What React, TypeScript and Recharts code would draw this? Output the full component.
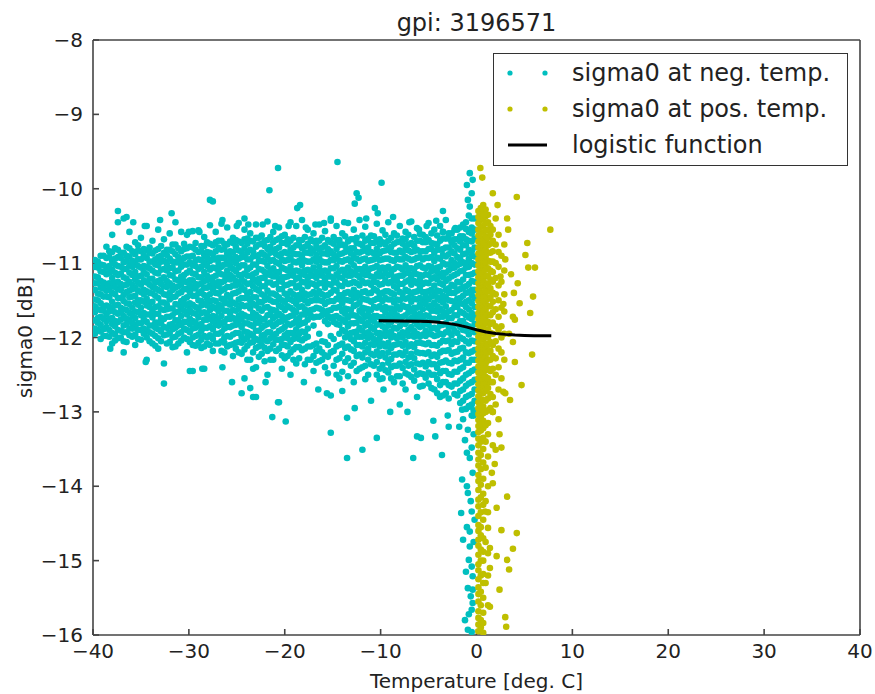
import React from 'react';
import { ScatterChart, Scatter, XAxis, YAxis, Legend, Label } from 'recharts';

const CYAN = '#00bfbf';
const OLIVE = '#bfbf00';
const FONT = 'DejaVu Sans, sans-serif';

const xTicks = [-40, -30, -20, -10, 0, 10, 20, 30, 40];
const yTicks = [-16, -15, -14, -13, -12, -11, -10, -9, -8];

// sigma0 below 0 deg: main cloud read column by column
const negColumnT = [
  -39.8, -39.2, -38.6, -38.0, -37.4, -36.8, -36.2, -35.6, -35.0, -34.4, -33.8, -33.2, -32.6, -32.0, -31.4, -30.8, -30.2,
  -29.6, -29.0, -28.4, -27.8, -27.2, -26.6, -26.0, -25.4, -24.8, -24.2, -23.6, -23.0, -22.4, -21.8, -21.2, -20.6, -20.0,
  -19.4, -18.8, -18.2, -17.6, -17.0, -16.4, -15.8, -15.2, -14.6, -14.0, -13.4, -12.8, -12.2, -11.6, -11.0, -10.4, -9.8,
  -9.2, -8.6, -8.0, -7.4, -6.8, -6.2, -5.6, -5.0, -4.4, -3.8, -3.2, -2.6, -2.0, -1.4, -0.8, -0.2,
];
const negColumnS = [
  [-10.96, -11.05, -11.18, -11.27, -11.36, -11.49, -11.58, -11.66, -11.77, -11.88, -11.95],
  [-10.9, -11.02, -11.11, -11.24, -11.33, -11.42, -11.54, -11.63, -11.72, -11.83, -11.92, -12.02],
  [-10.78, -10.93, -11.06, -11.15, -11.28, -11.37, -11.45, -11.57, -11.69, -11.78, -11.86, -11.98],
  [-10.62, -10.85, -10.97, -11.09, -11.2, -11.31, -11.4, -11.52, -11.61, -11.74, -11.82, -11.94, -12.08],
  [-10.3, -10.45, -10.82, -10.92, -11.04, -11.16, -11.25, -11.35, -11.47, -11.56, -11.68, -11.79, -11.9, -12.01],
  [-10.4, -10.86, -10.99, -11.08, -11.19, -11.3, -11.43, -11.51, -11.62, -11.71, -11.84, -11.93, -12.05],
  [-10.58, -10.8, -10.91, -11.03, -11.13, -11.25, -11.37, -11.46, -11.55, -11.67, -11.76, -11.88, -11.97],
  [-10.72, -10.88, -11.0, -11.12, -11.22, -11.33, -11.44, -11.53, -11.65, -11.74, -11.85, -11.96, -12.1],
  [-10.66, -10.84, -10.95, -11.06, -11.17, -11.29, -11.39, -11.5, -11.6, -11.7, -11.81, -11.9, -12.03],
  [-10.5, -10.83, -10.93, -11.05, -11.15, -11.26, -11.38, -11.48, -11.57, -11.69, -11.79, -11.91, -12.0, -12.3],
  [-10.7, -10.87, -10.98, -11.1, -11.21, -11.32, -11.41, -11.52, -11.64, -11.73, -11.84, -11.95, -12.08],
  [-10.55, -10.81, -10.92, -11.03, -11.14, -11.24, -11.36, -11.47, -11.58, -11.68, -11.8, -11.89, -12.01, -12.15],
  [-10.68, -10.86, -10.97, -11.08, -11.19, -11.31, -11.42, -11.53, -11.63, -11.75, -11.86, -11.97, -12.35, -12.62],
  [-10.6, -10.82, -10.94, -11.07, -11.16, -11.27, -11.4, -11.49, -11.61, -11.72, -11.83, -11.94, -12.06],
  [-10.45, -10.75, -10.88, -10.99, -11.11, -11.22, -11.33, -11.45, -11.55, -11.66, -11.77, -11.87, -11.99, -12.12],
  [-10.58, -10.84, -10.96, -11.05, -11.18, -11.28, -11.39, -11.51, -11.6, -11.71, -11.82, -11.93, -12.04],
  [-10.62, -10.8, -10.91, -11.02, -11.13, -11.26, -11.35, -11.46, -11.57, -11.69, -11.79, -11.9, -12.02, -12.2],
  [-10.57, -10.79, -10.9, -11.03, -11.14, -11.23, -11.34, -11.44, -11.56, -11.67, -11.78, -11.88, -12.0, -12.1, -12.45],
  [-10.56, -10.85, -10.95, -11.08, -11.19, -11.29, -11.41, -11.5, -11.62, -11.73, -11.84, -11.96, -12.07],
  [-10.65, -10.77, -10.89, -11.0, -11.12, -11.24, -11.33, -11.43, -11.55, -11.66, -11.76, -11.87, -11.98, -12.12, -12.42],
  [-10.49, -10.74, -10.86, -10.97, -11.09, -11.2, -11.3, -11.42, -11.52, -11.63, -11.74, -11.85, -11.97, -12.1],
  [-10.58, -10.72, -10.84, -10.95, -11.07, -11.17, -11.29, -11.4, -11.51, -11.61, -11.72, -11.83, -11.95, -12.08],
  [-10.47, -10.7, -10.82, -10.93, -11.05, -11.15, -11.26, -11.37, -11.48, -11.6, -11.71, -11.81, -11.93, -12.05, -12.18],
  [-10.52, -10.75, -10.87, -10.99, -11.1, -11.21, -11.32, -11.43, -11.54, -11.64, -11.75, -11.86, -11.98, -12.12],
  [-10.66, -10.73, -10.85, -10.96, -11.08, -11.19, -11.3, -11.41, -11.53, -11.63, -11.74, -11.84, -11.96, -12.09, -12.25],
  [-10.46, -10.71, -10.83, -10.94, -11.06, -11.16, -11.28, -11.38, -11.49, -11.61, -11.71, -11.82, -11.94, -12.06, -12.2],
  [-10.55, -10.68, -10.8, -10.91, -11.03, -11.14, -11.25, -11.36, -11.47, -11.58, -11.7, -11.81, -11.92, -12.03, -12.16, -12.55],
  [-10.6, -10.7, -10.82, -10.95, -11.06, -11.17, -11.27, -11.39, -11.5, -11.61, -11.73, -11.83, -11.95, -12.07, -12.3, -12.68],
  [-10.48, -10.66, -10.78, -10.9, -11.02, -11.13, -11.24, -11.35, -11.46, -11.57, -11.69, -11.8, -11.91, -12.02, -12.14, -12.4, -12.8],
  [-10.63, -10.74, -10.86, -10.97, -11.09, -11.2, -11.31, -11.42, -11.53, -11.64, -11.76, -11.87, -11.98, -12.1, -12.22],
  [-10.44, -10.69, -10.81, -10.92, -11.04, -11.15, -11.26, -11.37, -11.48, -11.59, -11.7, -11.82, -11.93, -12.05, -12.18, -12.5],
  [-10.58, -10.72, -10.84, -10.96, -11.07, -11.18, -11.29, -11.41, -11.52, -11.63, -11.74, -11.85, -11.97, -12.09, -12.3],
  [-10.52, -10.67, -10.79, -10.9, -11.01, -11.12, -11.24, -11.35, -11.46, -11.57, -11.68, -11.79, -11.91, -12.03, -12.15, -12.87],
  [-10.62, -10.73, -10.85, -10.97, -11.08, -11.19, -11.3, -11.41, -11.52, -11.63, -11.75, -11.86, -11.97, -12.1, -12.28],
  [-10.45, -10.7, -10.82, -10.93, -11.05, -11.16, -11.27, -11.38, -11.49, -11.6, -11.71, -11.83, -11.94, -12.06, -12.2, -12.5],
  [-10.5, -10.76, -10.88, -10.99, -11.1, -11.21, -11.33, -11.44, -11.55, -11.66, -11.77, -11.89, -12.0, -12.13, -12.35],
  [-10.42, -10.69, -10.8, -10.92, -11.03, -11.14, -11.25, -11.36, -11.47, -11.58, -11.69, -11.81, -11.92, -12.04, -12.17],
  [-10.55, -10.74, -10.86, -10.98, -11.09, -11.2, -11.31, -11.43, -11.54, -11.65, -11.76, -11.88, -11.99, -12.12, -12.3],
  [-10.6, -10.71, -10.83, -10.95, -11.06, -11.17, -11.28, -11.39, -11.5, -11.62, -11.73, -11.84, -12.1, -12.25, -12.45],
  [-10.48, -10.7, -10.82, -10.94, -11.05, -11.16, -11.27, -11.38, -11.5, -11.61, -11.72, -11.95, -12.15, -12.32],
  [-10.57, -10.76, -10.87, -10.99, -11.1, -11.22, -11.33, -11.44, -11.55, -11.66, -11.78, -12.06, -12.24, -12.4],
  [-10.43, -10.72, -10.84, -10.96, -11.07, -11.18, -11.29, -11.4, -11.51, -11.63, -11.74, -11.98, -12.2, -12.78],
  [-10.5, -10.69, -10.81, -10.93, -11.04, -11.15, -11.26, -11.37, -11.48, -11.6, -11.71, -11.82, -12.12, -12.3, -12.5],
  [-10.6, -10.75, -10.87, -10.98, -11.09, -11.2, -11.31, -11.43, -11.54, -11.65, -11.76, -11.9, -12.08, -12.22, -12.46, -12.72],
  [-10.46, -10.71, -10.83, -10.95, -11.06, -11.17, -11.28, -11.39, -11.5, -11.62, -11.73, -11.85, -11.97, -12.12, -12.28, -12.52],
  [-10.55, -10.68, -10.8, -10.92, -11.03, -11.14, -11.25, -11.36, -11.47, -11.58, -11.7, -11.81, -11.93, -12.05, -12.18, -12.34, -12.6],
  [-10.42, -10.74, -10.86, -10.97, -11.08, -11.19, -11.3, -11.42, -11.53, -11.64, -11.75, -11.87, -11.99, -12.1, -12.23, -12.42],
  [-10.51, -10.7, -10.82, -10.94, -11.05, -11.16, -11.27, -11.38, -11.49, -11.61, -11.72, -11.84, -11.95, -12.07, -12.2, -12.38, -12.56],
  [-10.63, -10.73, -10.85, -10.96, -11.07, -11.18, -11.29, -11.4, -11.52, -11.63, -11.74, -11.86, -11.97, -12.09, -12.22, -12.36],
  [-10.47, -10.69, -10.81, -10.93, -11.04, -11.15, -11.26, -11.37, -11.48, -11.6, -11.71, -11.83, -11.94, -12.06, -12.19, -12.33, -12.5],
  [-10.56, -10.72, -10.84, -10.95, -11.06, -11.17, -11.28, -11.4, -11.51, -11.62, -11.73, -11.85, -11.96, -12.08, -12.21, -12.37, -12.55],
  [-10.45, -10.7, -10.82, -10.94, -11.05, -11.16, -11.27, -11.38, -11.49, -11.61, -11.72, -11.84, -11.95, -12.07, -12.2, -12.34, -12.47],
  [-10.6, -10.74, -10.86, -10.97, -11.08, -11.2, -11.31, -11.42, -11.53, -11.64, -11.75, -11.87, -11.98, -12.1, -12.23, -12.38, -12.6],
  [-10.5, -10.71, -10.83, -10.95, -11.06, -11.17, -11.28, -11.39, -11.5, -11.62, -11.73, -11.85, -11.96, -12.08, -12.21, -12.35, -12.52],
  [-10.58, -10.68, -10.8, -10.92, -11.03, -11.14, -11.25, -11.36, -11.48, -11.59, -11.7, -11.82, -11.94, -12.06, -12.19, -12.33, -12.48, -12.7],
  [-10.44, -10.73, -10.85, -10.96, -11.07, -11.18, -11.29, -11.41, -11.52, -11.63, -11.74, -11.86, -11.97, -12.09, -12.22, -12.36, -12.53],
  [-10.53, -10.7, -10.82, -10.93, -11.04, -11.15, -11.27, -11.38, -11.49, -11.6, -11.72, -11.83, -11.95, -12.07, -12.2, -12.35, -12.5, -12.8],
  [-10.62, -10.72, -10.84, -10.95, -11.06, -11.17, -11.28, -11.39, -11.5, -11.62, -11.73, -11.84, -11.96, -12.08, -12.21, -12.34, -12.49, -12.65],
  [-10.46, -10.69, -10.81, -10.93, -11.04, -11.16, -11.27, -11.38, -11.49, -11.6, -11.71, -11.83, -11.95, -12.07, -12.2, -12.33, -12.47, -12.62],
  [-10.55, -10.74, -10.86, -10.97, -11.08, -11.19, -11.3, -11.42, -11.53, -11.64, -11.75, -11.87, -11.98, -12.1, -12.23, -12.36, -12.5, -12.7],
  [-10.5, -10.7, -10.82, -10.94, -11.05, -11.16, -11.27, -11.38, -11.5, -11.61, -11.72, -11.84, -11.95, -12.07, -12.2, -12.34, -12.48, -12.64, -12.8],
  [-10.42, -10.67, -10.79, -10.91, -11.02, -11.13, -11.24, -11.36, -11.47, -11.58, -11.69, -11.81, -11.93, -12.05, -12.18, -12.31, -12.45, -12.6, -12.75],
  [-10.6, -10.72, -10.84, -10.96, -11.07, -11.18, -11.29, -11.4, -11.51, -11.63, -11.74, -11.85, -11.97, -12.09, -12.22, -12.35, -12.5, -12.66],
  [-10.55, -10.68, -10.8, -10.92, -11.03, -11.14, -11.25, -11.37, -11.48, -11.59, -11.7, -11.82, -11.94, -12.06, -12.19, -12.32, -12.46, -12.62, -12.78],
  [-10.48, -10.64, -10.76, -10.88, -10.99, -11.1, -11.22, -11.33, -11.44, -11.55, -11.67, -11.78, -11.9, -12.02, -12.14, -12.27, -12.4, -12.55, -12.7, -12.85],
  [-10.36, -10.58, -10.7, -10.82, -10.94, -11.05, -11.16, -11.28, -11.39, -11.5, -11.62, -11.73, -11.85, -11.96, -12.08, -12.21, -12.34, -12.48, -12.62, -12.78, -12.92],
  [-10.4, -10.55, -10.67, -10.79, -10.91, -11.02, -11.13, -11.25, -11.36, -11.47, -11.59, -11.7, -11.82, -11.93, -12.05, -12.17, -12.3, -12.43, -12.57, -12.7, -12.85],
];

// in-between columns of the dense core
const negFillT = [
  -39.5, -38.9, -38.3, -37.7, -37.1, -36.5, -35.9, -35.3, -34.7, -34.1, -33.5, -32.9, -32.3, -31.7, -31.1, -30.5, -29.9,
  -29.3, -28.7, -28.1, -27.5, -26.9, -26.3, -25.7, -25.1, -24.5, -23.9, -23.3, -22.7, -22.1, -21.5, -20.9, -20.3, -19.7,
  -19.1, -18.5, -17.9, -17.3, -16.7, -16.1, -15.5, -14.9, -14.3, -13.7, -13.1, -12.5, -11.9, -11.3, -10.7, -10.1, -9.5,
  -8.9, -8.3, -7.7, -7.1, -6.5, -5.9, -5.3, -4.7, -4.1, -3.5, -2.9, -2.3, -1.7, -1.1, -0.5,
];
const negFillS = [
  [-10.98, -11.06, -11.19, -11.27, -11.41, -11.5, -11.62, -11.74, -11.8, -11.9],
  [-10.9, -11.03, -11.12, -11.26, -11.34, -11.45, -11.58, -11.64, -11.75, -11.89, -11.98],
  [-10.84, -10.92, -11.04, -11.13, -11.27, -11.35, -11.46, -11.59, -11.65, -11.75, -11.9, -11.99],
  [-10.8, -10.94, -11.02, -11.13, -11.26, -11.32, -11.42, -11.57, -11.66, -11.78, -11.85, -11.96, -12.04],
  [-10.86, -10.93, -11.05, -11.14, -11.28, -11.36, -11.47, -11.6, -11.66, -11.76, -11.91, -12.0],
  [-10.78, -10.9, -10.97, -11.08, -11.21, -11.29, -11.39, -11.54, -11.63, -11.75, -11.82, -11.93, -12.06],
  [-10.84, -10.97, -11.05, -11.16, -11.29, -11.35, -11.45, -11.6, -11.69, -11.81, -11.88, -11.99],
  [-10.76, -10.83, -10.95, -11.04, -11.18, -11.26, -11.37, -11.5, -11.56, -11.66, -11.81, -11.9, -12.02],
  [-10.81, -10.9, -11.04, -11.12, -11.23, -11.36, -11.42, -11.52, -11.67, -11.76, -11.88, -11.95],
  [-10.79, -10.86, -10.98, -11.07, -11.21, -11.29, -11.4, -11.53, -11.59, -11.69, -11.84, -11.93, -12.05],
  [-10.83, -10.95, -11.02, -11.13, -11.26, -11.34, -11.44, -11.59, -11.68, -11.8, -11.87, -11.98, -12.11],
  [-10.77, -10.9, -10.98, -11.09, -11.22, -11.28, -11.38, -11.53, -11.62, -11.74, -11.81, -11.92, -12.05],
  [-10.82, -10.89, -11.01, -11.1, -11.24, -11.32, -11.43, -11.56, -11.62, -11.72, -11.87, -11.96, -12.08],
  [-10.75, -10.84, -10.98, -11.06, -11.17, -11.3, -11.36, -11.46, -11.61, -11.7, -11.82, -11.89, -12.0, -12.13],
  [-10.8, -10.92, -10.99, -11.1, -11.23, -11.31, -11.41, -11.56, -11.65, -11.77, -11.84, -11.95, -12.08],
  [-10.74, -10.81, -10.93, -11.02, -11.16, -11.24, -11.35, -11.48, -11.54, -11.64, -11.79, -11.88, -12.0],
  [-10.78, -10.91, -10.99, -11.1, -11.23, -11.29, -11.39, -11.54, -11.63, -11.75, -11.82, -11.93, -12.06],
  [-10.73, -10.82, -10.96, -11.04, -11.15, -11.28, -11.34, -11.44, -11.59, -11.68, -11.8, -11.87, -11.98, -12.11],
  [-10.77, -10.84, -10.96, -11.05, -11.19, -11.27, -11.38, -11.51, -11.57, -11.67, -11.82, -11.91, -12.03, -12.14],
  [-10.72, -10.85, -10.93, -11.04, -11.17, -11.23, -11.33, -11.48, -11.57, -11.69, -11.76, -11.87, -12.0, -12.08],
  [-10.76, -10.88, -10.95, -11.06, -11.19, -11.25, -11.35, -11.5, -11.59, -11.71, -11.78, -11.89, -12.02, -12.18],
  [-10.7, -10.79, -10.93, -11.01, -11.12, -11.25, -11.31, -11.41, -11.56, -11.65, -11.77, -11.84, -11.95, -12.08],
  [-10.74, -10.81, -10.93, -11.02, -11.16, -11.24, -11.35, -11.48, -11.54, -11.64, -11.79, -11.88, -12.0, -12.07, -12.2],
  [-10.71, -10.84, -10.92, -11.03, -11.16, -11.22, -11.32, -11.47, -11.56, -11.68, -11.75, -11.86, -11.99, -12.1],
  [-10.69, -10.78, -10.92, -11.0, -11.11, -11.24, -11.3, -11.4, -11.55, -11.64, -11.76, -11.83, -11.94, -12.07, -12.15],
  [-10.73, -10.85, -10.92, -11.03, -11.16, -11.22, -11.32, -11.47, -11.56, -11.68, -11.75, -11.86, -11.99, -12.07, -12.22],
  [-10.67, -10.74, -10.86, -10.95, -11.09, -11.17, -11.28, -11.41, -11.47, -11.57, -11.72, -11.81, -11.93, -12.0, -12.11, -12.3],
  [-10.71, -10.84, -10.91, -11.02, -11.15, -11.21, -11.31, -11.46, -11.55, -11.67, -11.74, -11.85, -11.98, -12.06, -12.2, -12.42],
  [-10.66, -10.75, -10.89, -10.97, -11.08, -11.21, -11.27, -11.37, -11.52, -11.61, -11.73, -11.8, -11.91, -12.04, -12.12, -12.26],
  [-10.7, -10.77, -10.89, -10.98, -11.12, -11.2, -11.31, -11.44, -11.5, -11.6, -11.75, -11.84, -11.96, -12.03, -12.14, -12.32],
  [-10.65, -10.78, -10.86, -10.97, -11.1, -11.16, -11.26, -11.41, -11.5, -11.62, -11.69, -11.8, -11.93, -12.01, -12.15, -12.3],
  [-10.69, -10.81, -10.88, -10.99, -11.12, -11.18, -11.28, -11.43, -11.52, -11.64, -11.71, -11.82, -11.95, -12.03, -12.18],
  [-10.64, -10.73, -10.87, -10.95, -11.06, -11.19, -11.25, -11.35, -11.5, -11.59, -11.71, -11.78, -11.89, -12.02, -12.1, -12.24, -12.42],
  [-10.68, -10.75, -10.87, -10.96, -11.1, -11.18, -11.29, -11.42, -11.48, -11.58, -11.73, -11.82, -11.94, -12.01, -12.12, -12.25],
  [-10.66, -10.79, -10.87, -10.98, -11.11, -11.17, -11.27, -11.42, -11.51, -11.63, -11.7, -11.81, -11.94, -12.02, -12.16, -12.3],
  [-10.69, -10.76, -10.88, -10.97, -11.11, -11.19, -11.3, -11.43, -11.49, -11.59, -11.74, -11.83, -11.95, -12.02, -12.13, -12.28],
  [-10.65, -10.78, -10.86, -10.97, -11.1, -11.16, -11.26, -11.41, -11.5, -11.62, -11.69, -11.8, -11.93, -12.01, -12.15, -12.36],
  [-10.68, -10.8, -10.87, -10.98, -11.11, -11.17, -11.27, -11.42, -11.51, -11.63, -11.7, -12.12, -12.3],
  [-10.7, -10.77, -10.89, -10.98, -11.12, -11.2, -11.31, -11.44, -11.5, -11.6, -11.72, -12.08, -12.18, -12.34],
  [-10.66, -10.79, -10.87, -10.98, -11.11, -11.17, -11.27, -11.42, -11.51, -11.63, -11.7, -12.05, -12.2, -12.3],
  [-10.69, -10.81, -10.88, -10.99, -11.12, -11.18, -11.28, -11.43, -11.52, -11.64, -11.71, -11.82, -12.1, -12.26, -12.48],
  [-10.65, -10.74, -10.88, -10.96, -11.07, -11.2, -11.26, -11.36, -11.51, -11.6, -11.72, -11.79, -12.02, -12.18, -12.38],
  [-10.69, -10.76, -10.88, -10.97, -11.11, -11.19, -11.3, -11.43, -11.49, -11.59, -11.74, -11.83, -11.95, -12.1, -12.28, -12.55],
  [-10.64, -10.77, -10.85, -10.96, -11.09, -11.15, -11.25, -11.4, -11.49, -11.61, -11.68, -11.79, -11.92, -12.0, -12.14, -12.33],
  [-10.68, -10.8, -10.87, -10.98, -11.11, -11.17, -11.27, -11.42, -11.51, -11.63, -11.7, -11.81, -11.94, -12.02, -12.16, -12.38],
  [-10.66, -10.73, -10.85, -10.94, -11.08, -11.16, -11.27, -11.4, -11.46, -11.56, -11.71, -11.8, -11.92, -11.99, -12.1, -12.25, -12.45],
  [-10.63, -10.76, -10.84, -10.95, -11.08, -11.14, -11.24, -11.39, -11.48, -11.6, -11.67, -11.78, -11.91, -11.99, -12.12, -12.27, -12.4],
  [-10.67, -10.79, -10.86, -10.97, -11.1, -11.16, -11.26, -11.41, -11.5, -11.62, -11.69, -11.8, -11.93, -12.01, -12.15, -12.3, -12.5],
  [-10.64, -10.73, -10.87, -10.95, -11.06, -11.19, -11.25, -11.35, -11.5, -11.59, -11.71, -11.78, -11.89, -12.02, -12.1, -12.24, -12.38],
  [-10.68, -10.75, -10.87, -10.96, -11.1, -11.18, -11.29, -11.42, -11.48, -11.58, -11.73, -11.82, -11.94, -12.01, -12.12, -12.25, -12.42, -12.56],
  [-10.62, -10.75, -10.83, -10.94, -11.07, -11.13, -11.23, -11.38, -11.47, -11.59, -11.66, -11.77, -11.9, -11.98, -12.12, -12.27, -12.44],
  [-10.66, -10.78, -10.85, -10.96, -11.09, -11.15, -11.25, -11.4, -11.49, -11.61, -11.68, -11.79, -11.92, -12.0, -12.14, -12.29, -12.4, -12.55],
  [-10.63, -10.72, -10.86, -10.94, -11.05, -11.18, -11.24, -11.34, -11.49, -11.58, -11.7, -11.77, -11.88, -12.01, -12.09, -12.23, -12.38, -12.52],
  [-10.67, -10.74, -10.86, -10.95, -11.09, -11.17, -11.28, -11.41, -11.47, -11.57, -11.72, -11.81, -11.93, -12.0, -12.11, -12.24, -12.41, -12.62],
  [-10.62, -10.75, -10.83, -10.94, -11.07, -11.13, -11.23, -11.38, -11.47, -11.59, -11.66, -11.77, -11.9, -11.98, -12.12, -12.27, -12.38, -12.5],
  [-10.65, -10.77, -10.84, -10.95, -11.08, -11.14, -11.24, -11.39, -11.48, -11.6, -11.67, -11.78, -11.91, -11.99, -12.13, -12.28, -12.43, -12.58],
  [-10.61, -10.7, -10.84, -10.92, -11.03, -11.16, -11.22, -11.32, -11.47, -11.56, -11.68, -11.75, -11.86, -11.99, -12.07, -12.21, -12.36, -12.48, -12.66],
  [-10.65, -10.72, -10.84, -10.93, -11.07, -11.15, -11.26, -11.39, -11.45, -11.55, -11.7, -11.79, -11.91, -11.98, -12.09, -12.22, -12.39, -12.54],
  [-10.6, -10.73, -10.81, -10.92, -11.05, -11.11, -11.21, -11.36, -11.45, -11.57, -11.64, -11.75, -11.88, -11.96, -12.1, -12.25, -12.36, -12.5, -12.68],
  [-10.63, -10.75, -10.82, -10.93, -11.06, -11.12, -11.22, -11.37, -11.46, -11.58, -11.65, -11.76, -11.89, -11.97, -12.11, -12.26, -12.41, -12.56, -12.75],
  [-10.58, -10.67, -10.81, -10.89, -11.0, -11.13, -11.19, -11.29, -11.44, -11.53, -11.65, -11.72, -11.83, -11.96, -12.04, -12.18, -12.33, -12.45, -12.6, -12.78],
  [-10.6, -10.67, -10.79, -10.88, -11.02, -11.1, -11.21, -11.34, -11.4, -11.5, -11.65, -11.74, -11.86, -11.93, -12.04, -12.17, -12.34, -12.49, -12.64, -12.82],
  [-10.55, -10.68, -10.76, -10.87, -11.0, -11.06, -11.16, -11.31, -11.4, -11.52, -11.59, -11.7, -11.83, -11.91, -12.05, -12.2, -12.31, -12.46, -12.62, -12.76],
  [-10.52, -10.64, -10.71, -10.82, -10.95, -11.01, -11.11, -11.26, -11.35, -11.47, -11.54, -11.65, -11.78, -11.86, -12.0, -12.15, -12.3, -12.42, -12.58, -12.72, -12.88],
  [-10.45, -10.54, -10.68, -10.76, -10.87, -11.0, -11.06, -11.16, -11.31, -11.4, -11.52, -11.59, -11.7, -11.83, -11.91, -12.05, -12.2, -12.34, -12.5, -12.65, -12.8, -12.96],
  [-10.4, -10.52, -10.6, -10.71, -10.84, -10.9, -11.0, -11.15, -11.24, -11.36, -11.43, -11.54, -11.67, -11.75, -11.89, -12.04, -12.19, -12.3, -12.45, -12.6, -12.76, -12.9, -13.05],
];

// scattered cold points above and below the cloud
const negExtra = [
  [-20.7, -9.72], [-14.5, -9.64], [-21.6, -10.02], [-27.8, -10.15], [-27.5, -10.17], [-9.9, -9.92], [-12.5, -10.06],
  [-12.3, -10.12], [-18.7, -10.26], [-18.4, -10.22], [-31.8, -10.33], [-12.7, -10.2], [-10.6, -10.26], [-10.3, -10.33],
  [-36.5, -10.38], [-35.8, -10.45], [-34.6, -10.5], [-33.0, -10.42], [-30.0, -10.58], [-28.9, -10.58], [-26.5, -10.42],
  [-25.0, -10.5], [-24.2, -10.4], [-23.8, -10.48], [-22.3, -10.48], [-21.0, -10.5], [-19.6, -10.5], [-17.8, -10.52],
  [-16.8, -10.48], [-15.9, -10.46], [-15.2, -10.4], [-13.8, -10.45], [-11.5, -10.4], [-8.7, -10.38], [-7.0, -10.45],
  [-6.0, -10.55], [-5.2, -10.5], [-4.2, -10.43], [-3.5, -10.3], [-2.2, -10.53], [-3.5, -10.58], [-1.7, -10.65],
  [-0.7, -9.79], [-1.0, -9.95], [-0.5, -10.06], [-0.7, -10.24], [-0.9, -10.15], [-0.4, -9.88],
  [-34.5, -12.33], [-29.9, -12.45], [-28.6, -12.42], [-23.3, -12.8], [-20.7, -12.87], [-21.3, -13.07], [-19.9, -13.13],
  [-15.2, -13.28], [-13.5, -13.08], [-13.5, -13.62], [-11.9, -13.51], [-10.4, -13.35], [-6.6, -13.62], [-6.2, -13.33],
  [-4.5, -13.12], [-12.7, -12.95], [-9.7, -12.7], [-15.6, -12.75], [-4.3, -13.33], [-3.6, -13.58], [-5.8, -13.35],
  [-8.0, -12.9], [-7.2, -13.0], [-2.9, -13.2], [-3.0, -13.05], [-26.5, -12.4], [-25.5, -12.6], [-24.5, -12.75],
  [-22.0, -12.6], [-18.0, -12.6], [-16.5, -12.7], [-11.0, -12.85], [-9.0, -13.0], [-36.8, -12.2], [-38.2, -12.15],
];

// narrow cold tail just below 0 deg
const negTail = [
  [-1.5, -13.91], [-1.0, -14.0], [-0.9, -14.09], [-1.6, -14.36], [-0.5, -14.34], [-1.0, -14.55], [-0.7, -14.61],
  [-1.4, -14.72], [-0.7, -14.81], [-0.8, -14.99], [-0.5, -15.08], [-0.4, -15.21], [-0.9, -15.37], [-0.4, -15.39],
  [-0.4, -15.57], [-0.5, -15.66], [-1.2, -15.8], [-0.9, -15.93], [-0.5, -15.96], [-1.4, -13.1], [-0.9, -13.24],
  [-1.2, -13.38], [-0.5, -13.48], [-0.7, -13.62], [-0.4, -13.82], [-1.5, -12.97], [-0.7, -12.93], [-0.3, -13.05],
  [-0.3, -13.3], [-1.8, -13.2], [-0.6, -14.2], [-0.3, -14.75], [-1.1, -15.15], [-0.6, -15.48], [-0.8, -15.72],
  [-0.3, -12.98], [-1.0, -13.55], [-0.2, -14.45],
];

// sigma0 above 0 deg
const posColumnT = [0.2, 0.45, 0.7, 0.95, 1.2, 1.45, 1.7, 2.0, 2.3, 2.6, 2.9];
const posColumnS = [
  [-10.3, -10.38, -10.46, -10.55, -10.63, -10.71, -10.79, -10.87, -10.95, -11.03, -11.11, -11.19, -11.27, -11.35,
    -11.43, -11.51, -11.59, -11.67, -11.75, -11.83, -11.91, -11.99, -12.07, -12.15, -12.23, -12.31, -12.39, -12.47,
    -12.55, -12.63, -12.71, -12.79, -12.87, -12.95, -13.03, -13.11, -13.19, -13.27, -13.36, -13.45, -13.55, -13.64,
    -13.72, -13.85, -13.93, -14.05, -14.18, -14.27, -14.4, -14.52, -14.6, -14.72, -14.8, -14.92, -15.05, -15.13,
    -15.25, -15.36, -15.45, -15.55, -15.68, -15.77, -15.86, -15.95],
  [-10.26, -10.34, -10.42, -10.51, -10.59, -10.67, -10.75, -10.83, -10.91, -10.99, -11.07, -11.15, -11.23, -11.31,
    -11.39, -11.47, -11.55, -11.63, -11.71, -11.79, -11.87, -11.95, -12.03, -12.11, -12.19, -12.27, -12.35, -12.43,
    -12.51, -12.59, -12.67, -12.75, -12.83, -12.91, -12.99, -13.07, -13.16, -13.25, -13.4, -13.58, -13.77, -13.98,
    -14.15, -14.35, -14.55, -14.66, -14.85, -15.0, -15.2, -15.42, -15.6, -15.8, -15.9],
  [-10.22, -10.32, -10.41, -10.5, -10.59, -10.68, -10.77, -10.86, -10.95, -11.04, -11.13, -11.22, -11.31, -11.4,
    -11.49, -11.58, -11.67, -11.76, -11.85, -11.94, -12.03, -12.12, -12.21, -12.3, -12.39, -12.48, -12.57, -12.66,
    -12.75, -12.84, -12.93, -13.02, -13.12, -13.22, -13.35, -13.5, -13.68, -13.9, -14.1, -14.25, -14.45, -14.7,
    -14.88, -15.0, -15.18, -15.3, -15.5, -15.7, -15.84, -15.97],
  [-10.28, -10.37, -10.46, -10.55, -10.64, -10.73, -10.82, -10.91, -11.0, -11.09, -11.18, -11.27, -11.36, -11.45,
    -11.54, -11.63, -11.72, -11.81, -11.9, -11.99, -12.08, -12.17, -12.26, -12.35, -12.44, -12.53, -12.62, -12.72,
    -12.85, -13.0, -13.18, -13.4, -13.75, -14.2, -14.75, -15.3],
  [-10.35, -10.45, -10.56, -10.66, -10.76, -10.86, -10.97, -11.07, -11.17, -11.28, -11.38, -11.48, -11.58, -11.69,
    -11.79, -11.89, -12.0, -12.1, -12.2, -12.31, -12.42, -12.55, -12.68, -12.82, -12.98, -13.15, -13.3, -13.6, -14.0,
    -14.35, -14.9, -15.2, -15.6],
  [-10.5, -10.62, -10.74, -10.86, -10.98, -11.1, -11.22, -11.34, -11.46, -11.58, -11.7, -11.82, -11.94, -12.06, -12.18,
    -12.3, -12.45, -12.6, -12.76, -12.95],
  [-10.55, -10.7, -10.84, -10.98, -11.12, -11.25, -11.4, -11.52, -11.66, -11.8, -11.95, -12.1, -12.25, -12.42, -12.6,
    -12.8, -13.0, -13.45],
  [-10.4, -10.75, -11.0, -11.2, -11.42, -11.62, -11.85, -12.05, -12.28, -12.5, -12.9],
  [-10.62, -10.85, -11.05, -11.3, -11.5, -11.72, -11.9, -12.15, -12.4, -12.7, -13.1],
  [-10.9, -11.25, -11.6, -11.85, -12.2, -12.55],
  [-10.75, -11.1, -11.42, -11.65, -11.95, -12.3],
];
const posExtra = [
  [0.4, -9.72], [0.6, -9.85], [1.7, -10.06], [2.2, -10.22], [4.2, -10.11], [3.2, -10.4], [3.3, -10.55], [7.7, -10.55],
  [5.3, -10.73], [5.1, -10.89], [5.4, -11.06], [6.1, -11.06], [4.3, -11.27], [5.9, -11.45], [4.5, -11.54], [5.6, -11.67],
  [4.0, -11.76], [3.8, -11.72], [3.6, -11.15], [3.9, -11.4], [3.4, -11.95], [3.8, -12.06], [5.8, -12.23], [4.0, -12.33],
  [4.7, -12.64], [2.8, -12.73], [3.5, -12.84], [3.0, -12.75], [1.7, -13.0], [2.6, -13.48], [2.0, -13.51], [1.6, -13.82],
  [1.7, -13.96], [3.2, -14.14], [2.1, -14.29], [0.9, -14.34], [1.2, -14.56], [2.6, -14.59], [4.2, -14.63], [1.4, -14.83],
  [3.8, -14.84], [2.1, -14.94], [3.2, -14.99], [1.4, -15.1], [3.4, -15.12], [2.4, -15.39], [1.4, -15.62], [3.0, -15.76],
  [3.1, -15.89], [2.4, -13.3], [1.9, -13.7], [2.8, -11.55], [2.6, -12.0], [2.5, -11.18], [3.0, -10.95],
];

// fitted logistic curve
const logisticT = [-10.2, -8, -6, -5, -4, -3, -2, -1, 0, 1, 2, 3, 4, 5, 6, 7.8];
const logisticS = [-11.775, -11.777, -11.78, -11.785, -11.795, -11.81, -11.83, -11.86, -11.895, -11.925, -11.945,
  -11.958, -11.967, -11.972, -11.975, -11.977];

const fromColumns = (ts: number[], cols: number[][]) => cols.flatMap((col, i) => col.map((s) => ({ t: ts[i], s })));
const fromPairs = (list: number[][]) => list.map(([t, s]) => ({ t, s }));

const negPoints = [
  ...fromColumns(negColumnT, negColumnS),
  ...fromColumns(negFillT, negFillS),
  ...fromPairs(negExtra),
  ...fromPairs(negTail),
];
const posPoints = [...fromColumns(posColumnT, posColumnS), ...fromPairs(posExtra)];
const logistic = logisticT.map((t, i) => ({ t, s: logisticS[i] }));

const fmt = (v: number) => (v < 0 ? `\u2212${Math.abs(v)}` : `${v}`);
const dot = (color: string) => (p: any) => <circle cx={p.cx} cy={p.cy} r={3.3} fill={color} />;
const noShape = () => <g />;

const axisStroke = { stroke: '#444', strokeWidth: 1.6 };
const tickStyle = { fill: '#222', fontSize: 20, fontFamily: FONT };

const legendRows = [
  { label: 'sigma0 at neg. temp.', color: CYAN, kind: 'dot' },
  { label: 'sigma0 at pos. temp.', color: OLIVE, kind: 'dot' },
  { label: 'logistic function', color: '#000', kind: 'line' },
];

const LegendBox = () => (
  <div style={{ position: 'relative', width: 355, height: 113, boxSizing: 'border-box', border: '1.5px solid #333', background: '#fff', fontFamily: FONT, fontSize: 24, color: '#222' }}>
    {legendRows.map((r, i) => (
      <div key={r.label} style={{ position: 'absolute', left: 0, top: 1 + i * 36, height: 36, display: 'flex', alignItems: 'center', whiteSpace: 'nowrap' }}>
        <svg width={78} height={36}>
          {r.kind === 'dot' ? (
            <>
              <circle cx={16} cy={18} r={2.6} fill={r.color} />
              <circle cx={51} cy={18} r={2.6} fill={r.color} />
            </>
          ) : (
            <line x1={14} y1={18} x2={53} y2={18} stroke={r.color} strokeWidth={3} />
          )}
        </svg>
        <span>{r.label}</span>
      </div>
    ))}
  </div>
);

const YTitle = (props: any) => {
  const { x, y, height } = props.viewBox;
  const cx = x + 9;
  const cy = y + height / 2;
  return (
    <text x={cx} y={cy} transform={`rotate(-90 ${cx} ${cy})`} textAnchor="middle" fontSize={20} fontFamily={FONT} fill="#222">
      sigma0 [dB]
    </text>
  );
};

const App: React.FC = () => {
  return (
    <>
      <style>{'body{margin:0}'}</style>
      <ScatterChart width={875} height={694} margin={{ top: 39, right: 14, bottom: 29, left: 23 }}>
        <XAxis type="number" dataKey="t" domain={[-40, 40]} ticks={xTicks} tickFormatter={fmt} allowDataOverflow
          height={30} tickSize={-6} tickMargin={15} axisLine={axisStroke} tickLine={axisStroke} tick={tickStyle}>
          <Label value="Temperature [deg. C]" position="bottom" offset={9} fontSize={20} fontFamily={FONT} fill="#222" />
        </XAxis>
        <XAxis xAxisId="top" orientation="top" type="number" dataKey="t" domain={[-40, 40]} ticks={xTicks} allowDataOverflow
          height={1} tickSize={-6} axisLine={axisStroke} tickLine={axisStroke} tick={false}>
          <Label value="gpi: 3196571" position="top" offset={8} fontSize={24} fontFamily={FONT} fill="#222" />
        </XAxis>
        <YAxis type="number" dataKey="s" domain={[-16, -8]} ticks={yTicks} tickFormatter={fmt} allowDataOverflow
          width={70} tickSize={-6} tickMargin={16} axisLine={axisStroke} tickLine={axisStroke} tick={tickStyle}>
          <Label content={YTitle} />
        </YAxis>
        <YAxis yAxisId="right" orientation="right" type="number" dataKey="s" domain={[-16, -8]} ticks={yTicks} allowDataOverflow
          width={1} tickSize={-6} axisLine={axisStroke} tickLine={axisStroke} tick={false} />
        <Scatter name="sigma0 at neg. temp." data={negPoints} fill={CYAN} shape={dot(CYAN)} isAnimationActive={false} />
        <Scatter name="sigma0 at pos. temp." data={posPoints} fill={OLIVE} shape={dot(OLIVE)} isAnimationActive={false} />
        <Scatter name="logistic function" data={logistic} xAxisId="top" yAxisId="right" fill="#000" shape={noShape}
          line={{ stroke: '#000', strokeWidth: 3 }} lineType="joint" isAnimationActive={false} />
        <Legend content={<LegendBox />} layout="horizontal" verticalAlign="middle" align="center"
          wrapperStyle={{ top: 53, left: 493, width: 355, height: 113 }} />
      </ScatterChart>
    </>
  );
};

export default App;
